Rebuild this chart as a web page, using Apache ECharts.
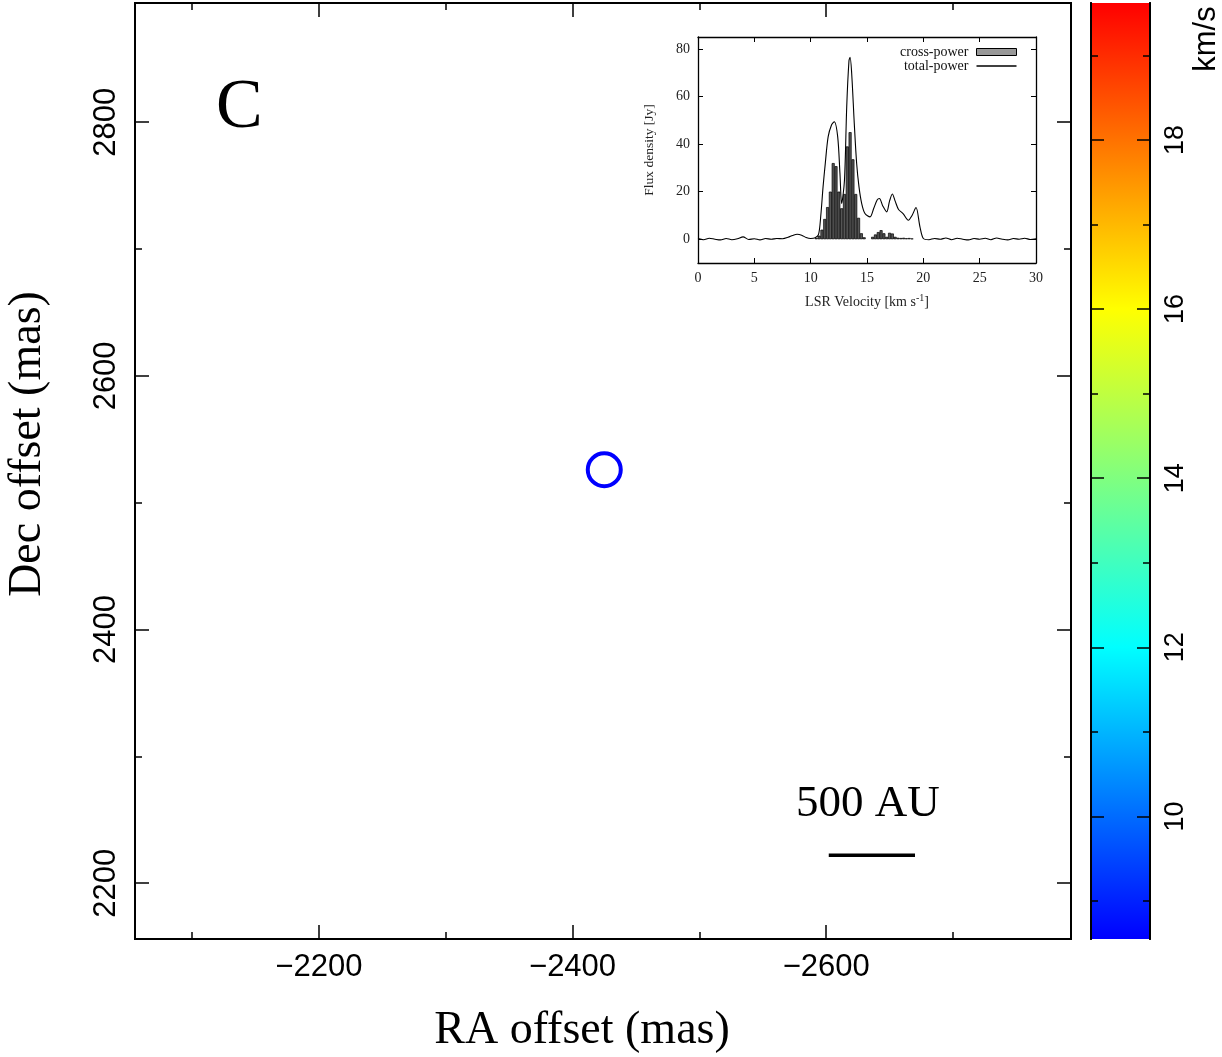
<!DOCTYPE html>
<html><head><meta charset="utf-8">
<script src="https://cdn.jsdelivr.net/npm/echarts@6/dist/echarts.min.js"></script>
<style>html,body{margin:0;padding:0;background:#fff}#c{width:1222px;height:1057px}</style>
</head><body><div id="c"></div>
<script>
// ---- main map data ----
const spotRA = [-2425];
const spotDec = [2526];
const scaleBarRA = [-2602, -2670];
const scaleBarDec = [2222, 2222];
const raMajorTicks = [-2200, -2400, -2600];
const raMinorTicks = [-2100, -2300, -2500, -2700];
const decMajorTicks = [2200, 2400, 2600, 2800];
const decMinorTicks = [2300, 2500, 2700];
// ---- colour bar ----
const cbMajorTicks = [10, 12, 14, 16, 18];
const cbMinorTicks = [9, 11, 13, 15, 17, 19];
const cbRange = [8.55, 19.62];
const cbStopValues = [8.55, 12, 16, 19.62];
const cbStopColors = ['#0000ff', '#00ffff', '#ffff00', '#ff0000'];
// ---- inset spectrum ----
const crossVel = [10.5, 10.75, 11.0, 11.25, 11.5, 11.75, 12.0, 12.25, 12.5, 12.75, 13.0, 13.25, 13.5, 13.75, 14.0, 14.25, 14.5, 14.75, 15.5, 15.75, 16.0, 16.25, 16.5, 16.75, 17.0, 17.25, 17.5, 17.75, 18.0, 18.25, 18.5, 18.75, 19.0];
const crossFlux = [0.5, 1.5, 4, 8.5, 13.5, 20, 32, 30.7, 20, 13, 19, 39, 45, 33.6, 19, 9, 2.5, 0.8, 1, 2, 3, 3.8, 2.5, 1, 2.7, 2.4, 1, 0.6, 0.5, 0.6, 0.4, 0.5, 0.3];
const tpVel = [0, 0.5, 1, 1.5, 2, 2.5, 3, 3.5, 4, 4.5, 5, 5.5, 6, 6.5, 7, 7.5, 8, 8.4, 8.8, 9.2, 9.6, 10, 10.4, 10.7, 10.9, 11.1, 11.3, 11.55, 11.85, 12.1, 12.4, 12.6, 12.75, 13.0, 13.2, 13.4, 13.5, 13.64, 13.87, 14.08, 14.29, 14.53, 14.82, 15.27, 15.6, 15.9, 16.1, 16.4, 16.75, 17.0, 17.25, 17.5, 17.8, 18.2, 18.67, 19.0, 19.35, 19.7, 20.0, 20.5, 21, 21.5, 22, 22.5, 23, 23.5, 24, 24.5, 25, 25.5, 26, 26.5, 27, 27.5, 28, 28.5, 29, 29.5, 30];
const tpFlux = [0.3, -0.2, 0.4, 0, -0.3, 0.3, -0.2, 0.2, 1.0, -0.1, 0.2, -0.3, 0.3, 0, 0.3, 0.2, 0.8, 1.6, 2.1, 1.7, 0.7, 0.3, 0.6, 2, 10, 22, 32, 43, 48, 49.4, 43, 27.6, 15, 24.8, 55.7, 75, 76.5, 69.8, 48.7, 31.9, 22, 15, 10.8, 9.4, 13, 16.5, 17.1, 14, 11.5, 16, 19, 16, 12.5, 10.8, 8, 10, 13.3, 5.2, 0.3, -0.2, 0.3, 0, 0.5, -0.2, 0.4, 0, -0.3, 0.3, 0, 0.4, -0.2, 0.5, 0, -0.3, 0.3, 0, 0.4, -0.1, 0.2];
const insetYLabels = [0, 20, 40, 60, 80];

const SANS = 'Liberation Sans';
const SERIF = 'Liberation Serif';
const minus = v => (v < 0 ? '\u2212' + Math.abs(v) : String(v));

function tickAxis(grid, pos, min, max, ticks, len, opts) {
  return Object.assign({
    type: 'value', gridIndex: grid, position: pos, min: min, max: max, z: 10,
    axisLine: { show: true, onZero: false, lineStyle: { color: '#000', width: 2 } },
    axisTick: { show: true, inside: true, length: len, customValues: ticks, lineStyle: { color: '#000', width: 1.5 } },
    axisLabel: { show: false },
    splitLine: { show: false }
  }, opts || {});
}

const xAxes = [
  tickAxis(0, 'bottom', -2793, -2055, raMajorTicks, 14, {
    inverse: true,
    axisLabel: { show: true, customValues: raMajorTicks, formatter: minus, fontFamily: SANS, fontSize: 31, color: '#000', margin: 13 },
    name: 'RA offset (mas)', nameLocation: 'middle', nameGap: 69,
    nameTextStyle: { fontFamily: SERIF, fontSize: 46, color: '#000', padding: [0, 42, 0, 0] }
  }),
  tickAxis(0, 'bottom', -2793, -2055, raMinorTicks, 7, { inverse: true }),
  tickAxis(0, 'top', -2793, -2055, raMajorTicks, 14, { inverse: true }),
  tickAxis(0, 'top', -2793, -2055, raMinorTicks, 7, { inverse: true }),
  { type: 'value', gridIndex: 1, min: 0, max: 1, show: false },
  tickAxis(2, 'bottom', 0, 30, undefined, 5, {
    interval: 5,
    axisLine: { show: true, onZero: false, lineStyle: { color: '#000', width: 1.3 } },
    axisTick: { show: true, inside: true, length: 5, lineStyle: { color: '#000', width: 1 } },
    axisLabel: { show: true, fontFamily: SERIF, fontSize: 14, color: '#222', margin: 8 },
    name: 'LSR Velocity [km s{sup|-1}]', nameLocation: 'middle', nameGap: 30,
    nameTextStyle: { fontFamily: SERIF, fontSize: 14, color: '#222', rich: { sup: { fontFamily: SERIF, fontSize: 10, verticalAlign: 'top', padding: [0, 0, 8, 0], color: '#222' } } }
  }),
  tickAxis(2, 'top', 0, 30, undefined, 5, {
    interval: 5,
    axisLine: { show: true, onZero: false, lineStyle: { color: '#000', width: 1.3 } },
    axisTick: { show: true, inside: true, length: 5, lineStyle: { color: '#000', width: 1 } }
  })
];

const yAxes = [
  tickAxis(0, 'left', 2156, 2894, decMajorTicks, 14, {
    axisLabel: { show: true, customValues: decMajorTicks, formatter: v => String(v), rotate: 90, fontFamily: SANS, fontSize: 31, color: '#000', margin: 13 },
    name: 'Dec offset (mas)', nameLocation: 'middle', nameGap: 84,
    nameTextStyle: { fontFamily: SERIF, fontSize: 46, color: '#000', padding: [0, 0, 0, 54] }
  }),
  tickAxis(0, 'left', 2156, 2894, decMinorTicks, 7),
  tickAxis(0, 'right', 2156, 2894, decMajorTicks, 14),
  tickAxis(0, 'right', 2156, 2894, decMinorTicks, 7),
  tickAxis(1, 'left', cbRange[0], cbRange[1], cbMajorTicks, 13),
  tickAxis(1, 'left', cbRange[0], cbRange[1], cbMinorTicks, 7),
  tickAxis(1, 'right', cbRange[0], cbRange[1], cbMajorTicks, 13, {
    axisLabel: { show: true, customValues: cbMajorTicks, formatter: v => String(v), rotate: 90, fontFamily: SANS, fontSize: 27, color: '#000', margin: 12 }
  }),
  tickAxis(1, 'right', cbRange[0], cbRange[1], cbMinorTicks, 7),
  tickAxis(2, 'left', -10, 85, insetYLabels, 5, {
    axisLine: { show: true, onZero: false, lineStyle: { color: '#000', width: 1.3 } },
    axisTick: { show: true, inside: true, length: 5, customValues: insetYLabels, lineStyle: { color: '#000', width: 1 } },
    axisLabel: { show: true, customValues: insetYLabels, formatter: v => String(v), fontFamily: SERIF, fontSize: 14, color: '#222', margin: 8 },
    name: 'Flux density [Jy]', nameLocation: 'middle', nameGap: 42,
    nameTextStyle: { fontFamily: SERIF, fontSize: 13.5, color: '#222' }
  }),
  tickAxis(2, 'right', -10, 85, insetYLabels, 5, {
    axisLine: { show: true, onZero: false, lineStyle: { color: '#000', width: 1.3 } },
    axisTick: { show: true, inside: true, length: 5, customValues: insetYLabels, lineStyle: { color: '#000', width: 1 } }
  })
];

const span = cbRange[1] - cbRange[0];
const gradStops = cbStopValues.map((v, i) => ({ offset: (v - cbRange[0]) / span, color: cbStopColors[i] }));

const option = {
  backgroundColor: '#fff',
  animation: false,
  grid: [
    { left: 135, top: 3, width: 936, height: 936, outerBoundsMode: 'none', containLabel: false },
    { left: 1091, top: 3, width: 59, height: 936, outerBoundsMode: 'none', containLabel: false },
    { left: 698, top: 37, width: 338, height: 226, outerBoundsMode: 'none', containLabel: false }
  ],
  xAxis: xAxes,
  yAxis: yAxes,
  legend: {
    right: 200, top: 40, orient: 'vertical', align: 'right', itemGap: 0,
    itemWidth: 40, itemHeight: 7,
    textStyle: { fontFamily: SERIF, fontSize: 14, color: '#111', padding: [0, 3, 0, 0] },
    data: [
      { name: 'cross-power', icon: 'rect', itemStyle: { color: '#999', borderColor: '#000', borderWidth: 1 } },
      { name: 'total-power', icon: 'path://M0,0 L40,0 L40,1.4 L0,1.4 Z', itemStyle: { color: '#000', borderWidth: 0 } }
    ]
  },
  series: [
    {
      type: 'scatter', xAxisIndex: 0, yAxisIndex: 0,
      data: spotRA.map((r, i) => [r, spotDec[i]]),
      symbol: 'circle', symbolSize: 33,
      itemStyle: { color: 'rgba(0,0,0,0)', borderColor: '#0000ff', borderWidth: 4, opacity: 1 }
    },
    {
      type: 'line', xAxisIndex: 0, yAxisIndex: 0,
      data: scaleBarRA.map((r, i) => [r, scaleBarDec[i]]),
      symbol: 'none', lineStyle: { color: '#000', width: 3.5 }
    },
    {
      type: 'custom', xAxisIndex: 4, yAxisIndex: 4,
      data: [[0, cbRange[0], 1, cbRange[1]]],
      renderItem: function (params, api) {
        const p0 = api.coord([api.value(0), api.value(1)]);
        const p1 = api.coord([api.value(2), api.value(3)]);
        return {
          type: 'rect',
          shape: { x: p0[0], y: p1[1], width: p1[0] - p0[0], height: p0[1] - p1[1] },
          style: { fill: new echarts.graphic.LinearGradient(0, 1, 0, 0, gradStops) }
        };
      },
      z: 1
    },
    {
      name: 'cross-power', type: 'bar', xAxisIndex: 5, yAxisIndex: 8,
      data: crossVel.map((v, i) => [v, crossFlux[i]]),
      barWidth: 3,
      itemStyle: { color: '#555', borderColor: '#000', borderWidth: 0.7 }
    },
    {
      name: 'total-power', type: 'line', xAxisIndex: 5, yAxisIndex: 8,
      data: tpVel.map((v, i) => [v, tpFlux[i]]),
      symbol: 'none', smooth: 0.3,
      itemStyle: { color: '#000' },
      lineStyle: { color: '#000', width: 1.1 }
    }
  ],
  graphic: [
    { type: 'text', left: 216, top: 74, style: { text: 'C', font: '70px "Liberation Serif"', fill: '#000' } },
    { type: 'text', left: 796, top: 782, style: { text: '500 AU', font: '45px "Liberation Serif"', fill: '#000' } },
    { type: 'text', x: 1206, y: 39, rotation: Math.PI / 2, style: { text: 'km/s', font: '31px "Liberation Sans"', fill: '#000', align: 'center', verticalAlign: 'middle' } }
  ]
};

const chart = echarts.init(document.getElementById('c'), null, { renderer: 'canvas' });
chart.setOption(option);
</script>
</body></html>
